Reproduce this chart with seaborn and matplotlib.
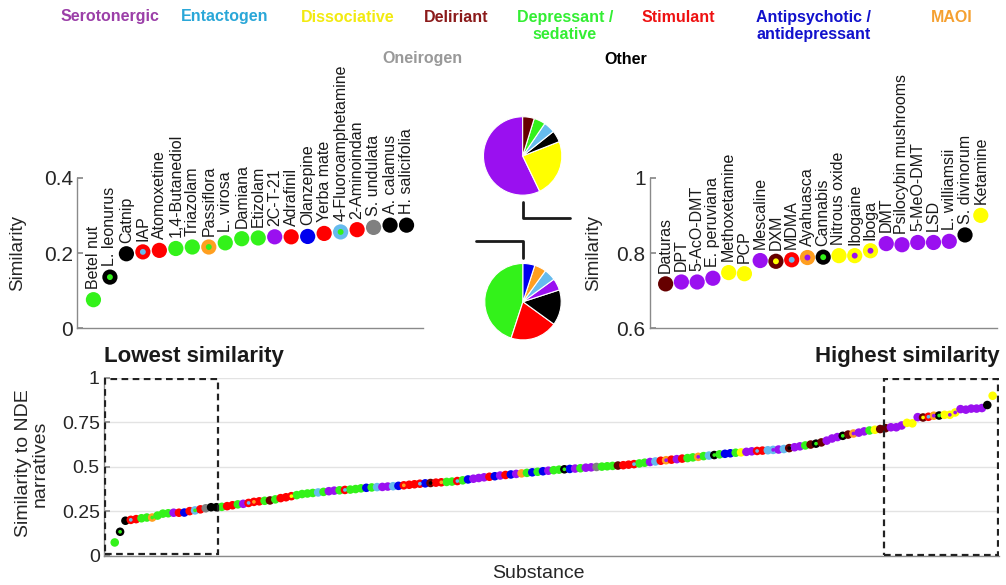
import matplotlib
matplotlib.use('Agg')
import matplotlib.pyplot as plt
from matplotlib.patches import Rectangle
from matplotlib.lines import Line2D
import pandas as pd
import seaborn as sns

# category codes: S serotonergic, E entactogen, D dissociative, L deliriant,
# P depressant/sedative, T stimulant, A antipsychotic, M MAOI, O oneirogen, X other
cat_codes = ['S', 'E', 'D', 'L', 'P', 'T', 'A', 'M', 'O', 'X']
cat_names = ['Serotonergic', 'Entactogen', 'Dissociative', 'Deliriant',
             'Depressant /\nsedative', 'Stimulant', 'Antipsychotic /\nantidepressant',
             'MAOI', 'Oneirogen', 'Other']
cat_colors = ['#9a10f0', '#66bbee', '#ffff00', '#660000', '#33f21a',
              '#ff0000', '#0000ee', '#ff9f20', '#808080', '#000000']
text_colors = ['#9b3fa8', '#2aa7d8', '#f2ea10', '#8b1a1a', '#33ee33',
               '#ee1111', '#1111cc', '#f5a030', '#999999', '#000000']

low_names = ['Betel nut', 'L. leonurus', 'Catnip', 'IAP', 'Atomoxetine', '1,4-Butanediol',
             'Triazolam', 'Passiflora', 'L. virosa', 'Damiana', 'Etizolam', '2C-T-21',
             'Adrafinil', 'Olanzepine', 'Yerba mate', '4-Fluoroamphetamine', '2-Aminoindan',
             'S. undulata', 'A. calamus', 'H. salicifolia']
low_values = [0.076, 0.136, 0.198, 0.203, 0.207, 0.212, 0.216, 0.216, 0.227, 0.238,
              0.240, 0.243, 0.243, 0.244, 0.252, 0.256, 0.262, 0.268, 0.274, 0.274]
low_class = 'PPXETPPPPPPSTATPTOXX'
low_ring = '.X.T...M.......E....'

high_names = ['Daturas', 'DPT', '5-AcO-DMT', 'E. peruviana', 'Methoxetamine', 'PCP',
              'Mescaline', 'DXM', 'MDMA', 'Ayahuasca', 'Cannabis', 'Nitrous oxide',
              'Ibogaine', 'Iboga', 'DMT', 'Psilocybin mushrooms', '5-MeO-DMT', 'LSD',
              'L. williamsii', 'S. divinorum', 'Ketamine']
high_values = [0.718, 0.723, 0.723, 0.733, 0.748, 0.745, 0.780, 0.778, 0.782, 0.788,
               0.789, 0.793, 0.793, 0.806, 0.825, 0.822, 0.828, 0.828, 0.831, 0.848, 0.900]
high_class = 'LSSSDDSDESPDSSSSSSSXD'
high_ring = '.......LTMX.DD.......'

# the substances between the two extremes (ranks 21-144)
mid_values = [0.276, 0.280, 0.285, 0.290, 0.293, 0.298, 0.304, 0.307, 0.310, 0.312,
              0.318, 0.325, 0.330, 0.336, 0.342, 0.348, 0.351, 0.354, 0.357, 0.360,
              0.364, 0.367, 0.369, 0.371, 0.373, 0.376, 0.380, 0.383, 0.385, 0.387,
              0.388, 0.390, 0.392, 0.394, 0.397, 0.400, 0.403, 0.406, 0.408, 0.410,
              0.412, 0.414, 0.416, 0.418, 0.421, 0.425, 0.430, 0.434, 0.438, 0.442,
              0.445, 0.448, 0.452, 0.455, 0.458, 0.461, 0.464, 0.467, 0.470, 0.473,
              0.476, 0.479, 0.482, 0.485, 0.487, 0.489, 0.491, 0.493, 0.496, 0.498,
              0.500, 0.502, 0.504, 0.506, 0.508, 0.510, 0.513, 0.516, 0.520, 0.524,
              0.528, 0.531, 0.535, 0.538, 0.541, 0.544, 0.547, 0.550, 0.554, 0.557,
              0.561, 0.564, 0.567, 0.571, 0.574, 0.577, 0.580, 0.582, 0.585, 0.588,
              0.590, 0.592, 0.594, 0.596, 0.598, 0.601, 0.606, 0.611, 0.616, 0.621,
              0.626, 0.631, 0.638, 0.648, 0.660, 0.668, 0.675, 0.682, 0.688, 0.693,
              0.700, 0.705, 0.709, 0.713]
mid_class = ('PTTPSEMTPLPTTDPP'
             'PPEPSSPEPPPAPESSEAMTTEAXTMPPEPASSSTA'
             'STASMPAPASPPPASPSSOPPPLTTEPPSETSTSTPP'
             'SPEPPAAPDSSETESSEXSSPLPLSSSPLSSSPDL')
mid_ring = ('.....TT......T..'
            '.......T..........T..T.L.T..T.......'
            '............X............T.....M.....'
            'M..X.......T..E..L....X....X.M.....')

high_pie_classes = ['S', 'D', 'X', 'E', 'P', 'L']
high_pie_counts = [12, 5, 1, 1, 1, 1]
low_pie_classes = ['P', 'T', 'X', 'S', 'E', 'M', 'A']
low_pie_counts = [9, 4, 3, 1, 1, 1, 1]

palette = dict(zip(cat_codes, cat_colors))


def make_frame(values, classes, rings, start=1):
    df = pd.DataFrame({'value': values, 'inner': list(classes), 'ring': list(rings)})
    df['idx'] = range(start, start + len(df))
    df['outer'] = [r if r != '.' else c for r, c in zip(df['ring'], df['inner'])]
    return df


def draw_points(ax, df, size, inner_size):
    sns.scatterplot(data=df, x='idx', y='value', hue='outer', palette=palette,
                    s=size, linewidth=0, legend=False, ax=ax, zorder=3)
    rings = df[df['ring'] != '.']
    sns.scatterplot(data=rings, x='idx', y='value', hue='inner', palette=palette,
                    s=inner_size, linewidth=0, legend=False, ax=ax, zorder=4)


def style_axes(ax, ticks, labels, fs):
    for side in ['top', 'right']:
        ax.spines[side].set_visible(False)
    for side in ['left', 'bottom']:
        ax.spines[side].set_color('#8a8a8a')
        ax.spines[side].set_linewidth(1)
    ax.set_yticks(ticks)
    ax.set_yticklabels(labels)
    ax.set_xticks([])
    ax.tick_params(axis='y', direction='in', length=4, color='#8a8a8a',
                   labelsize=fs, labelcolor='#262626', left=True, pad=3)
    ax.set_xlabel('')


sns.set_theme(style='white')
plt.rcParams['font.family'] = ['Liberation Sans', 'DejaVu Sans']

fig = plt.figure(figsize=(10.06, 5.85), dpi=100)

# lowest similarity panel
ax_low = fig.add_axes([0.0765, 0.4388, 0.344, 0.2574])
low_df = make_frame(low_values, low_class, low_ring)
draw_points(ax_low, low_df, 120, 18)
for name, i, v in zip(low_names, low_df['idx'], low_values):
    ax_low.annotate(name, (i, v), xytext=(0, 8), textcoords='offset points',
                    rotation=90, ha='center', va='bottom', fontsize=11.5, color='#1a1a1a')
ax_low.set_xlim(0, len(low_values) + 1)
ax_low.set_ylim(0, 0.4)
style_axes(ax_low, [0, 0.2, 0.4], ['0', '0.2', '0.4'], 15)
ax_low.set_ylabel('Similarity', fontsize=13.5, color='#262626')
ax_low.yaxis.set_label_coords(-0.147, 0.5)

# highest similarity panel
ax_high = fig.add_axes([0.646, 0.4388, 0.3446, 0.2574])
high_df = make_frame(high_values, high_class, high_ring)
draw_points(ax_high, high_df, 120, 18)
for name, i, v in zip(high_names, high_df['idx'], high_values):
    ax_high.annotate(name, (i, v), xytext=(0, 8), textcoords='offset points',
                     rotation=90, ha='center', va='bottom', fontsize=11.5, color='#1a1a1a')
ax_high.set_xlim(0, len(high_values) + 1)
ax_high.set_ylim(0.6, 1.0)
style_axes(ax_high, [0.6, 0.8, 1.0], ['0.6', '0.8', '1'], 15)
ax_high.set_ylabel('Similarity', fontsize=13.5, color='#262626')
ax_high.yaxis.set_label_coords(-0.139, 0.5)

# all substances panel
ax_all = fig.add_axes([0.1034, 0.0496, 0.8897, 0.3043])
all_df = make_frame(low_values + mid_values + high_values,
                    low_class + mid_class + high_class,
                    low_ring + mid_ring + high_ring)
n_all = len(all_df)
n_low = len(low_values)
n_high = len(high_values)
draw_points(ax_all, all_df, 38, 7)
ax_all.set_xlim(-1, n_all + 1.2)
ax_all.set_ylim(0, 1)
style_axes(ax_all, [0, 0.25, 0.5, 0.75, 1], ['0', '0.25', '0.5', '0.75', '1'], 14)
ax_all.yaxis.grid(True, color='#e3e3e3', linewidth=1)
ax_all.set_axisbelow(True)
ax_all.set_ylabel('Similarity to NDE\nnarratives', fontsize=14, color='#262626', linespacing=1.0)
ax_all.yaxis.set_label_coords(-0.062, 0.52)
ax_all.set_xlabel('Substance', fontsize=14, color='#262626')
ax_all.xaxis.set_label_coords(0.485, -0.05)

box_style = dict(fill=False, linestyle=(0, (3, 2)), linewidth=1.6, edgecolor='#222222', zorder=5)
ax_all.add_patch(Rectangle((-0.8, 0.01), n_low + 1.1, 0.985, **box_style))
ax_all.add_patch(Rectangle((n_all - n_high + 0.7, 0.005), n_high + 0.3, 0.99, **box_style))
ax_all.text(0.0, 1.12, 'Lowest similarity', transform=ax_all.transAxes, ha='left',
            va='center', fontsize=16, fontweight='bold', color='#1a1a1a')
ax_all.text(1.001, 1.12, 'Highest similarity', transform=ax_all.transAxes, ha='right',
            va='center', fontsize=16, fontweight='bold', color='#1a1a1a')

# pies of category shares
for rect, classes, counts in [([0.4798, 0.665, 0.0795, 0.1368], high_pie_classes, high_pie_counts),
                              ([0.4811, 0.4176, 0.0775, 0.1333], low_pie_classes, low_pie_counts)]:
    ax_pie = fig.add_axes(rect)
    ax_pie.pie(counts, colors=[palette[c] for c in classes], startangle=90,
               counterclock=True, wedgeprops=dict(edgecolor='white', linewidth=0.8))
    ax_pie.set_xlim(-1.02, 1.02)
    ax_pie.set_ylim(-1.02, 1.02)
    ax_pie.set_aspect('equal')
    ax_pie.axis('off')


def fig_line(xs, ys):
    fig.add_artist(Line2D([x / 1006 for x in xs], [1 - y / 585 for y in ys],
                          transform=fig.transFigure, color='#1a1a1a', linewidth=2))


fig_line([523.3, 523.3, 570], [201.7, 218.3, 218.3])
fig_line([476, 523.3, 523.3], [240.7, 240.7, 258.3])

# category key at the top
key_pos = [(110, 17), (225, 17), (348, 17), (456, 17), (565, 26), (678, 17),
           (814, 26), (952, 17), (422, 59), (626, 59)]
for name, col, (x, y) in zip(cat_names, text_colors, key_pos):
    fig.text(x / 1006, 1 - y / 585, name, ha='center', va='center', fontsize=11.5,
             fontweight='bold', color=col, linespacing=1.15)

fig.savefig('out.png', dpi=100)
